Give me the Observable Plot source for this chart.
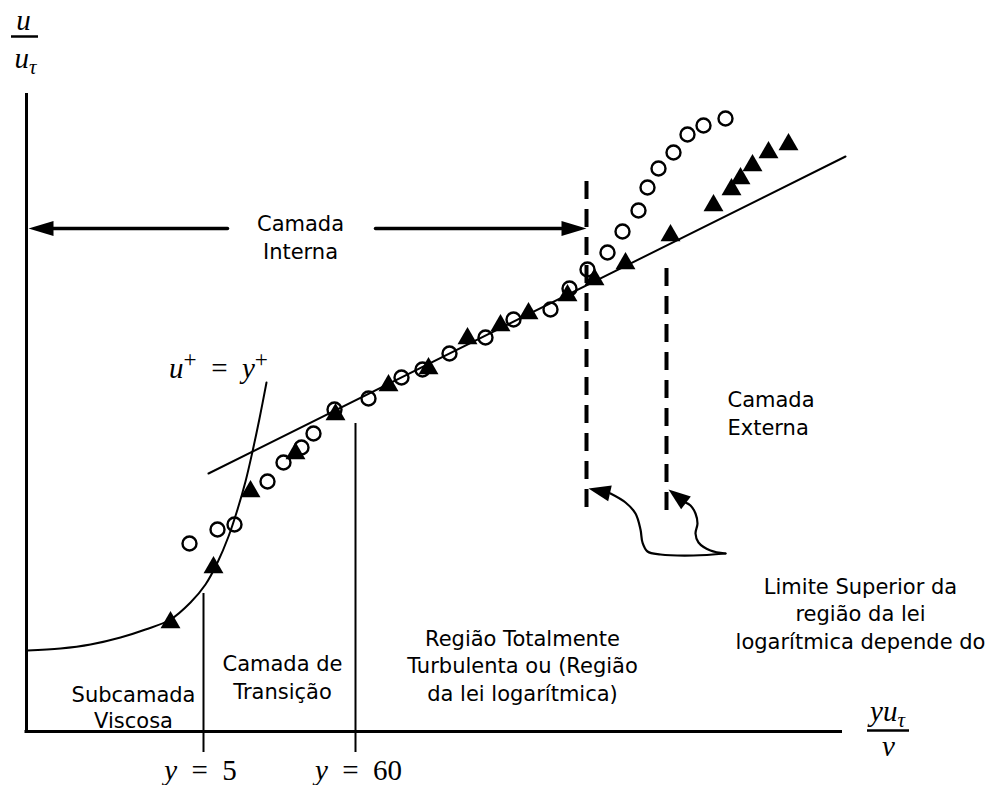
<!DOCTYPE html>
<html><head><meta charset="utf-8">
<script src="https://cdn.jsdelivr.net/npm/d3@7"></script>
<script src="https://cdn.jsdelivr.net/npm/@observablehq/plot@0.6"></script>
<style>html,body{margin:0;padding:0;background:#fff;} #chart{width:990px;height:785px;overflow:hidden;}</style>
</head><body><div id="chart"></div>
<script>
// ---- Schematic data (schematic units, y measured downward) ----
const openCircles = [
  [189,543],[217,529],[234,524],[267,481],[283,462],[301,447],[313,433],[334,409],
  [368,398],[401,377],[422,369],[449,353],[485,337],[513,319],[550,309],[569,288],
  [587,269],[607,252],[622,231],[638,210],[647,187],[658,168],[673,152],[687,134],
  [703,125],[725,118]
];
const filledTriangles = [
  [170,622],[213,567],[250,491],[295,453],[335,414],[388,385],[428,368],[467,338],
  [500,325],[528,313],[567,295],[594,279],[625,263],[670,235],[713,205],[731,189],
  [740,178],[752,165],[768,152],[788,144]
];
const viscousCurve = [
  [27,650],[60,648],[90,644],[120,637],[145,629],[170,619],[190,602],[205,584],
  [217,562],[228,536],[237,509],[245,481],[252,451],[259,418],[266,382]
];
const logLawLine = [[208,473],[845,156]];
const axisVertical = [{x:26, y1:93, y2:732.5}];
const axisHorizontal = [{y:731, x1:24.5, x2:842}];
const regionBoundaries = [{x:203, y1:593, y2:752},{x:355, y1:423, y2:752}];
const upperLimits = [{x:586, y1:181, y2:516},{x:666, y1:268, y2:518}];
const internaArrows = [
  [[227,228],[52,228],[28,228]],
  [[375,228],[561,228],[586,228]]
];
const pointerArrows = [
  [[725,553],[693,555],[660,554],[647,551],[642,542],[640,529],[635,513],[625,502],[610,493],[588,488]],
  [[725,553],[710,550],[698,542],[695,533],[697,523],[695,513],[690,505],[685,502],[668,489]]
];
const fractionBars = [{y:36, x1:11, x2:38},{y:730, x1:867, x2:909}];
const centerLabels = [
  {x:300, y:236, text:"Camada\nInterna"},
  {x:282, y:676, text:"Camada de\nTransição"},
  {x:522, y:664, text:"Região Totalmente\nTurbulenta ou (Região\nda lei logarítmica)"},
  {x:860, y:612, text:"Limite Superior da\nregião da lei\nlogarítmica depende do"}
];
const leftLabels = [{x:727, y:412, text:"Camada\nExterna"}];
const viscousLabel = [{x:133, y:706, text:"Subcamada\nViscosa"}];
const mathLabels = [
  {x:23, y:20, text:"u"},
  {x:25, y:58, text:"u_τ"},
  {x:887, y:711, text:"yu_τ"},
  {x:888, y:746, text:"ν"},
  {x:218, y:368, text:"u^+\u2002=\u2002y^+"},
  {x:200, y:770, text:"y\u2002=\u20025"},
  {x:358, y:770, text:"y\u2002=\u200260"}
];

// ---- helpers ----
const headingOf = (path) => {
  const a = path[path.length-2], b = path[path.length-1];
  return Math.atan2(b[0]-a[0], -(b[1]-a[1])) * 180 / Math.PI;
};
const arrowHead = (L, W) => ({draw(ctx){ ctx.moveTo(0,0); ctx.lineTo(-W,L); ctx.lineTo(W,L); ctx.closePath(); }});
const lineParts = (paths) => paths.flatMap((p,i) => p.slice(0,-1).map(q => ({x:q[0], y:q[1], id:i})));
const tips = (paths) => paths.map(p => ({x:p[p.length-1][0], y:p[p.length-1][1], angle: headingOf(p)}));

const sans = "DejaVu Sans";
const serif = "Liberation Serif";

const chart = Plot.plot({
  width: 990, height: 785,
  margin: 0,
  x: {domain:[0,990], axis:null},
  y: {domain:[0,785], reverse:true, axis:null},
  style: {background:"#fff"},
  marks: [
    Plot.ruleX(axisVertical, {x:"x", y1:"y1", y2:"y2", stroke:"black", strokeWidth:3}),
    Plot.ruleY(axisHorizontal, {y:"y", x1:"x1", x2:"x2", stroke:"black", strokeWidth:3}),
    Plot.ruleX(regionBoundaries, {x:"x", y1:"y1", y2:"y2", stroke:"black", strokeWidth:2}),
    Plot.ruleX(upperLimits, {x:"x", y1:"y1", y2:"y2", stroke:"black", strokeWidth:4, strokeDasharray:"18,10"}),
    Plot.line(viscousCurve, {x:d=>d[0], y:d=>d[1], curve:"catmull-rom", stroke:"black", strokeWidth:2}),
    Plot.line(logLawLine, {x:d=>d[0], y:d=>d[1], stroke:"black", strokeWidth:2}),
    Plot.line(lineParts(internaArrows), {x:"x", y:"y", z:"id", stroke:"black", strokeWidth:3.5}),
    Plot.dot(tips(internaArrows), {x:"x", y:"y", rotate:"angle", symbol: arrowHead(25,7.5), fill:"black", stroke:"none"}),
    Plot.line(lineParts(pointerArrows), {x:"x", y:"y", z:"id", curve:"catmull-rom", stroke:"black", strokeWidth:2.2}),
    Plot.dot(tips(pointerArrows), {x:"x", y:"y", rotate:"angle", symbol: arrowHead(22,8), fill:"black", stroke:"none"}),
    Plot.dot(openCircles, {x:d=>d[0], y:d=>d[1], r:7, stroke:"black", strokeWidth:2.4, fill:"none"}),
    Plot.dot(filledTriangles, {x:d=>d[0], y:d=>d[1], symbol:"triangle", r:7.4, fill:"black", stroke:"none"}),
    Plot.ruleY(fractionBars, {y:"y", x1:"x1", x2:"x2", stroke:"black", strokeWidth:2.5}),
    Plot.text(centerLabels, {x:"x", y:"y", text:"text", fontFamily:sans, fontSize:21, lineHeight:1.33, textAnchor:"middle", lineAnchor:"middle"}),
    Plot.text(leftLabels, {x:"x", y:"y", text:"text", fontFamily:sans, fontSize:21, lineHeight:1.33, textAnchor:"start", lineAnchor:"middle"}),
    Plot.text(viscousLabel, {x:"x", y:"y", text:"text", fontFamily:sans, fontSize:21, lineHeight:1.25, textAnchor:"middle", lineAnchor:"middle"}),
    Plot.text(mathLabels, {x:"x", y:"y", text:"text", fontFamily:serif, fontSize:29, textAnchor:"middle", lineAnchor:"middle", className:"math"})
  ]
});
document.getElementById("chart").appendChild(chart);

// typeset simple math: italic letters, _x subscript, ^x superscript
(function mathify(root){
  const NS = "http://www.w3.org/2000/svg";
  root.querySelectorAll(".math text").forEach(t => {
    const s = t.textContent;
    const fs = parseFloat(getComputedStyle(t).fontSize) || 28;
    t.textContent = "";
    let shift = 0, i = 0;
    while (i < s.length) {
      let ch = s[i], mode = "n";
      if ((ch === "_" || ch === "^") && i + 1 < s.length) { mode = ch === "_" ? "sub" : "sup"; ch = s[i+1]; i += 2; } else i += 1;
      const ts = document.createElementNS(NS, "tspan");
      const target = mode === "sub" ? 0.22*fs : mode === "sup" ? -0.36*fs : 0;
      const dy = target - shift; shift = target;
      if (dy) ts.setAttribute("dy", dy.toFixed(2));
      if (mode !== "n") ts.setAttribute("font-size", (fs*(mode === "sup" ? 0.8 : 0.72)).toFixed(1));
      if (/[A-Za-z\u0370-\u03ff]/.test(ch)) ts.setAttribute("font-style", "italic");
      ts.textContent = ch;
      t.appendChild(ts);
    }
  });
})(chart);
</script>
</body></html>
